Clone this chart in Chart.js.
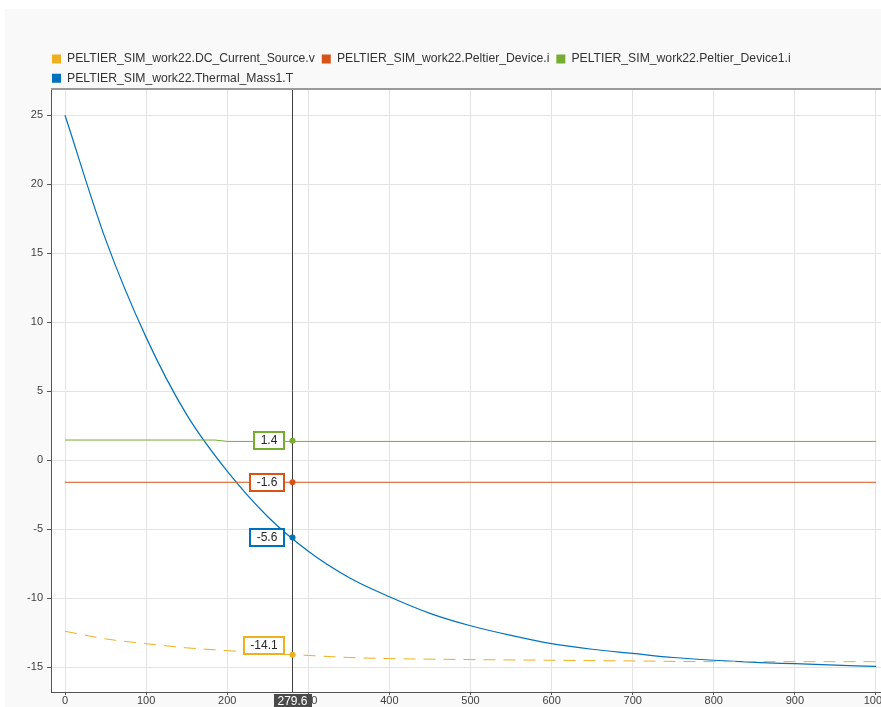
<!DOCTYPE html>
<html>
<head>
<meta charset="utf-8">
<title>PELTIER_SIM_work22</title>
<script src="https://cdn.jsdelivr.net/npm/chart.js@4.4.1/dist/chart.umd.min.js"></script>
<style>
  html, body { margin: 0; padding: 0; background: #fff; overflow: hidden; }
  #wrap { position: relative; width: 881px; height: 707px; }
</style>
</head>
<body>
<div id="wrap"><canvas id="chart" width="881" height="707"></canvas></div>
<script>
(function () {
  "use strict";

  // signal names and colours, in legend order
  var seriesNames = [
    "PELTIER_SIM_work22.DC_Current_Source.v",
    "PELTIER_SIM_work22.Peltier_Device.i",
    "PELTIER_SIM_work22.Peltier_Device1.i",
    "PELTIER_SIM_work22.Thermal_Mass1.T"
  ];
  var seriesColors = ["#EDB120", "#D95319", "#77AC30", "#0072BD"];

  // DC_Current_Source.v
  var sourceT = [0, 50, 100, 150, 200, 250, 300, 350, 400, 450, 500, 600, 700, 800, 900, 1000];
  var sourceV = [-12.4, -12.95, -13.3, -13.6, -13.8, -14.0, -14.15, -14.3, -14.38, -14.42, -14.45, -14.5, -14.55, -14.6, -14.6, -14.6];

  // Peltier_Device.i
  var peltierT = [0, 1000];
  var peltierV = [-1.6, -1.6];

  // Peltier_Device1.i
  var peltier1T = [0, 185, 200, 1000];
  var peltier1V = [1.46, 1.46, 1.36, 1.36];

  // Thermal_Mass1.T
  var massT = [0, 50, 100, 150, 200, 250, 300, 350, 400, 450, 500, 550, 600, 650, 700, 750, 800, 850, 900, 950, 1000];
  var massV = [25, 16.0, 8.9, 3.3, -0.8, -4.1, -6.6, -8.5, -9.9, -11.1, -12.0, -12.7, -13.3, -13.7, -14.0, -14.3, -14.5, -14.65, -14.75, -14.85, -14.95];

  // data cursor
  var cursorT = 279.6;
  var cursorV = [-14.1, -1.6, 1.4, -5.6];

  // axes
  var xRange = [-17.3, 1006.2];
  var yRange = [-16.8, 26.9];
  var xStep = 100;
  var yStep = 5;

  var FONT = "'Liberation Sans', Arial, Helvetica, sans-serif";
  var tipShift = [-9, 0, 0, 0];

  function pts(t, v) {
    return t.map(function (x, i) { return { x: x, y: v[i] }; });
  }

  function series(i, t, v, extra) {
    var ds = {
      label: seriesNames[i],
      data: pts(t, v),
      borderColor: seriesColors[i],
      backgroundColor: seriesColors[i],
      borderWidth: 1,
      pointRadius: 0,
      fill: false
    };
    for (var k in extra) ds[k] = extra[k];
    return ds;
  }

  var backdrop = {
    id: "backdrop",
    afterLayout: function (chart) {
      // nudge legend to sit over the plot's left edge
      chart.legend.left += 45;
      chart.legend.top += 5.3;
      chart.legend.bottom += 5.3;
    },
    beforeDraw: function (chart) {
      var ctx = chart.ctx, a = chart.chartArea;
      ctx.save();
      ctx.fillStyle = "#ffffff";
      ctx.fillRect(0, 0, chart.width, chart.height);
      ctx.fillStyle = "#f9f9f9";
      ctx.fillRect(5, 9, chart.width - 5, chart.height - 9);
      ctx.fillStyle = "#ffffff";
      ctx.fillRect(a.left, a.top, a.right - a.left, a.bottom - a.top);
      ctx.restore();
    },
    afterDraw: function (chart) {
      var ctx = chart.ctx, a = chart.chartArea;
      ctx.save();
      ctx.strokeStyle = "#9a9a9a";
      ctx.lineWidth = 2;
      ctx.beginPath();
      ctx.moveTo(a.left, a.top);
      ctx.lineTo(a.right, a.top);
      ctx.stroke();
      ctx.restore();
    }
  };

  var cursor = {
    id: "cursor",
    afterDatasetsDraw: function (chart) {
      var ctx = chart.ctx, a = chart.chartArea, xs = chart.scales.x, ys = chart.scales.y;
      var px = Math.round(xs.getPixelForValue(cursorT)) + 0.5;
      ctx.save();
      ctx.strokeStyle = "#3f3f3f";
      ctx.lineWidth = 1;
      ctx.beginPath();
      ctx.moveTo(px, a.top);
      ctx.lineTo(px, a.bottom);
      ctx.stroke();

      ctx.font = "12px " + FONT;
      ctx.textAlign = "center";
      ctx.textBaseline = "middle";
      cursorV.forEach(function (v, i) {
        var py = ys.getPixelForValue(v);
        ctx.fillStyle = seriesColors[i];
        ctx.beginPath();
        ctx.arc(px, py, 3, 0, Math.PI * 2);
        ctx.fill();

        var txt = v.toFixed(1);
        var w = Math.round(ctx.measureText(txt).width + 13), h = 17;
        var bx = Math.round(px - 9 - w), by = Math.round(py - h / 2 + tipShift[i]);
        ctx.fillStyle = "#ffffff";
        ctx.fillRect(bx, by, w, h);
        ctx.strokeStyle = seriesColors[i];
        ctx.lineWidth = 2;
        ctx.strokeRect(bx, by, w, h);
        ctx.fillStyle = "#262626";
        ctx.fillText(txt, bx + w / 2, by + h / 2 + 0.5);
      });

      var label = cursorT.toFixed(1);
      var tw = Math.round(ctx.measureText(label).width + 8);
      ctx.fillStyle = "#4a4a4a";
      ctx.fillRect(Math.round(px - tw / 2), a.bottom + 2, tw, 17);
      ctx.fillStyle = "#ffffff";
      ctx.fillText(label, px, a.bottom + 10);
      ctx.restore();
    }
  };

  Chart.defaults.font.family = FONT;
  Chart.defaults.font.size = 11;
  Chart.defaults.color = "#404040";

  new Chart(document.getElementById("chart"), {
    type: "line",
    data: {
      datasets: [
        series(0, sourceT, sourceV, { borderDash: [12, 8], cubicInterpolationMode: "monotone" }),
        series(1, peltierT, peltierV, {}),
        series(2, peltier1T, peltier1V, {}),
        series(3, massT, massV, { cubicInterpolationMode: "monotone", borderWidth: 1.2 })
      ]
    },
    options: {
      responsive: false,
      animation: false,
      events: [],
      layout: { padding: { top: 40.6, left: 0, right: 0, bottom: 0 } },
      plugins: {
        tooltip: { enabled: false },
        legend: {
          position: "top",
          align: "start",
          labels: {
            boxWidth: 9,
            boxHeight: 9,
            padding: 7,
            color: "#333333",
            font: { size: 12.2 },
            generateLabels: function (chart) {
              return chart.data.datasets.map(function (ds, i) {
                return {
                  text: ds.label, fillStyle: ds.borderColor, strokeStyle: ds.borderColor,
                  lineWidth: 0, hidden: false, datasetIndex: i, fontColor: "#333333"
                };
              });
            }
          }
        }
      },
      scales: {
        x: {
          type: "linear",
          min: xRange[0],
          max: xRange[1],
          afterFit: function (s) { s.height = 15; s.paddingLeft = 0; s.paddingRight = 0; },
          ticks: {
            stepSize: xStep, includeBounds: false, maxRotation: 0, autoSkip: false, padding: -1, color: "#404040",
            callback: function (v) { return String(v); }
          },
          grid: { color: "#e3e3e3", tickColor: "#555555", tickLength: 3 },
          border: { color: "#555555", width: 1 }
        },
        y: {
          type: "linear",
          min: yRange[0],
          max: yRange[1],
          afterFit: function (s) { s.width = 51; s.paddingTop = 0; s.paddingBottom = 0; },
          ticks: {
            stepSize: yStep, includeBounds: false, padding: 4, color: "#404040",
            callback: function (v) { return String(v); }
          },
          grid: { color: "#e3e3e3", tickColor: "#555555", tickLength: 4 },
          border: { color: "#555555", width: 1 }
        }
      }
    },
    plugins: [backdrop, cursor]
  });
})();
</script>
</body>
</html>
